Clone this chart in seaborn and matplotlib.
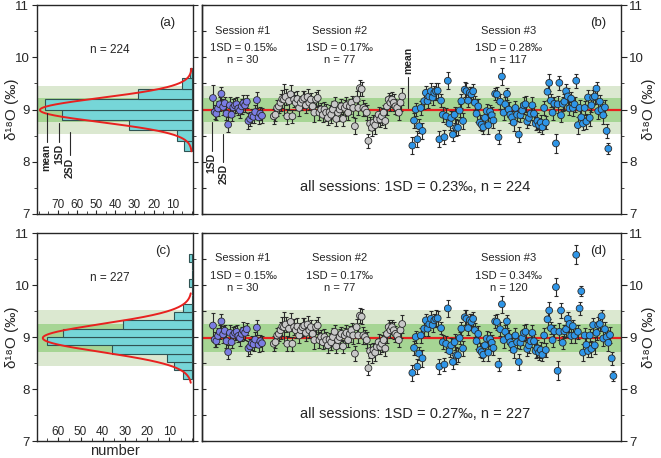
import numpy as np
import pandas as pd
import seaborn as sns
import matplotlib.pyplot as plt
from matplotlib.ticker import MultipleLocator

sns.set_style('ticks')
plt.rcParams['font.family'] = ['Liberation Sans', 'DejaVu Sans']
plt.rcParams['axes.linewidth'] = 1.0

# %% data
s1 = [9.22, 8.95, 8.92, 9.02, 9.10, 9.30, 9.05, 9.12, 8.92, 8.71,
      9.08, 8.90, 9.04, 9.08, 9.10, 9.02, 8.98, 9.06, 9.12, 9.08,
      9.15, 8.78, 8.82, 8.88, 8.86, 8.95, 9.18, 8.85, 8.92, 8.88]
err1 = [0.24, 0.14, 0.12, 0.15, 0.13, 0.14, 0.16, 0.12, 0.13, 0.14,
        0.15, 0.12, 0.16, 0.14, 0.13, 0.12, 0.15, 0.14, 0.16, 0.13,
        0.12, 0.15, 0.14, 0.13, 0.12, 0.14, 0.15, 0.13, 0.12, 0.14]

s2 = [8.87, 8.90, 9.03, 9.06, 9.13, 9.20, 9.19, 9.24, 8.87, 9.16,
      9.29, 8.87, 9.19, 9.13, 9.20, 9.03, 9.13, 9.19, 9.22, 9.08,
      9.24, 9.13, 9.19, 9.06, 8.94, 9.19, 9.22, 8.94, 9.00, 8.90,
      9.00, 8.94, 8.84, 8.95, 8.90, 9.00, 9.10, 8.82, 8.94, 9.00,
      9.06, 8.82, 9.03, 9.08, 8.94, 9.06, 9.13, 9.03, 8.68, 9.19,
      9.03, 9.41, 9.39, 9.03, 9.00, 8.94, 8.40, 8.73, 8.65, 8.75,
      8.70, 8.81, 8.90, 8.81, 8.87, 8.94, 8.78, 9.06, 9.19, 9.13,
      9.19, 9.13, 9.06, 9.03, 8.94, 9.13, 9.25]
err2 = [0.14, 0.12, 0.15, 0.13, 0.16, 0.18, 0.30, 0.15, 0.14, 0.16,
        0.17, 0.13, 0.15, 0.14, 0.16, 0.15, 0.13, 0.17, 0.14, 0.15,
        0.16, 0.14, 0.13, 0.15, 0.17, 0.14, 0.16, 0.15, 0.13, 0.14,
        0.15, 0.16, 0.14, 0.13, 0.15, 0.17, 0.14, 0.13, 0.16, 0.15,
        0.14, 0.13, 0.15, 0.16, 0.14, 0.15, 0.13, 0.17, 0.15, 0.16,
        0.14, 0.15, 0.14, 0.16, 0.13, 0.15, 0.14, 0.13, 0.15, 0.14,
        0.16, 0.13, 0.15, 0.14, 0.16, 0.15, 0.14, 0.17, 0.13, 0.15,
        0.14, 0.16, 0.15, 0.13, 0.14, 0.15, 0.17]

s3_b = [8.31, 8.79, 9.00, 8.43, 8.68, 9.03, 8.59, 9.16, 9.32, 9.16,
        9.25, 9.35, 9.23, 9.32, 9.35, 9.36, 8.43, 9.17, 8.90, 8.47,
        8.87, 9.55, 8.73, 8.84, 8.52, 8.90, 8.65, 8.65, 8.98, 9.16,
        8.78, 9.38, 9.35, 9.17, 9.32, 9.29, 9.35, 9.13, 8.92, 9.06,
        8.75, 8.71, 8.66, 8.84, 8.97, 8.70, 8.96, 8.89, 8.79, 9.30,
        9.29, 8.47, 9.15, 9.63, 8.94, 9.10,
        9.30, 9.00, 8.90, 8.85, 8.75, 9.03, 8.90, 8.52, 8.89, 8.98,
        9.08, 9.10, 8.77, 8.84, 8.92, 9.08, 8.92, 8.73, 8.78, 8.70,
        8.75, 8.66, 9.03, 8.75, 9.34, 9.51, 9.17, 8.94, 9.11, 8.35,
        9.10, 9.51, 8.89, 9.11, 9.15, 9.35, 9.25, 9.02, 9.21, 9.03,
        9.10, 9.55, 8.70, 9.03, 8.85, 8.73, 9.03, 8.77, 9.23, 8.84,
        9.08, 9.23, 9.25, 9.40, 8.97, 9.15, 9.00, 8.89, 9.04, 8.59,
        8.25]
err3_b = [0.16, 0.14, 0.12, 0.15, 0.13, 0.14, 0.16, 0.15, 0.13, 0.14,
          0.12, 0.15, 0.14, 0.13, 0.16, 0.14, 0.15, 0.12, 0.14, 0.13,
          0.15, 0.16, 0.12, 0.14, 0.13, 0.15, 0.16, 0.14, 0.12, 0.13,
          0.15, 0.14, 0.16, 0.13, 0.12, 0.15, 0.14, 0.13, 0.16, 0.15,
          0.14, 0.12, 0.13, 0.15, 0.14, 0.16, 0.13, 0.15, 0.14, 0.12,
          0.15, 0.13, 0.14, 0.16, 0.15, 0.13, 0.12, 0.14, 0.15, 0.13,
          0.16, 0.14, 0.12, 0.15, 0.13, 0.14, 0.16, 0.15, 0.13, 0.14,
          0.12, 0.15, 0.14, 0.13, 0.16, 0.14, 0.15, 0.12, 0.14, 0.13,
          0.15, 0.16, 0.12, 0.14, 0.13, 0.18, 0.16, 0.14, 0.12, 0.13,
          0.15, 0.14, 0.16, 0.13, 0.12, 0.15, 0.14, 0.13, 0.16, 0.15,
          0.14, 0.12, 0.13, 0.15, 0.14, 0.16, 0.13, 0.15, 0.14, 0.12,
          0.15, 0.13, 0.14, 0.16, 0.15, 0.13, 0.10]

# panel (d): session 3 with the three high outliers kept
s3_d = s3_b[:85] + [9.96] + s3_b[85:96] + [10.58] + s3_b[96:98] + [9.88] + s3_b[98:]
err3_d = err3_b[:85] + [0.18] + err3_b[85:96] + [0.18] + err3_b[96:98] + [0.10] + err3_b[98:]

# histograms (bin edges, counts)
hist_a_edges = [8.2, 8.4, 8.6, 8.8, 9.0, 9.2, 9.4, 9.6, 9.8]
hist_a_counts = [4, 8, 33, 68, 77, 28, 5, 1]
hist_c_edges = [8.20, 8.36, 8.52, 8.68, 8.84, 9.00, 9.16, 9.32, 9.48, 9.64,
                9.80, 9.96, 10.12, 10.28, 10.44, 10.60]
hist_c_counts = [4, 8, 11, 36, 65, 58, 31, 8, 4, 0, 0, 1, 0, 0, 1]

# summary stats: mean, 1SD, gaussian peak
stats_b = dict(mean=8.99, sd=0.23, peak=79.5, n=224)
stats_d = dict(mean=8.98, sd=0.27, peak=67, n=227)

session_sd_b = ['0.15', '0.17', '0.28']
session_sd_d = ['0.15', '0.17', '0.34']

pal = {'1': '#7b7de3', '2': '#c8c8c8', '3': '#2f96e8'}
red = '#e8211f'
band1 = '#a6d594'
band2 = '#dbe8d0'
ink = '#2a2a2a'

def session_frame(s3, e3):
    x = np.concatenate([np.arange(1, 1 + len(s1)),
                        np.arange(37, 37 + len(s2)),
                        np.arange(119, 119 + len(s3))])
    return pd.DataFrame({'x': x,
                         'y': s1 + s2 + s3,
                         'err': err1 + err2 + e3,
                         'session': ['1'] * len(s1) + ['2'] * len(s2) + ['3'] * len(s3)})

df_b = session_frame(s3_b, err3_b)
df_d = session_frame(s3_d, err3_d)

fig = plt.figure(figsize=(6.61, 4.58), dpi=100)
ax_a = fig.add_axes([37 / 661, 1 - 214 / 458, 156 / 661, 209 / 458])
ax_b = fig.add_axes([202 / 661, 1 - 214 / 458, 419 / 661, 209 / 458])
ax_c = fig.add_axes([37 / 661, 1 - 441 / 458, 156 / 661, 208 / 458])
ax_d = fig.add_axes([202 / 661, 1 - 441 / 458, 419 / 661, 208 / 458])

ylab = 'δ¹⁸O (‰)'

def bands(ax, st):
    m, sd = st['mean'], st['sd']
    ax.axhspan(m - 2 * sd, m + 2 * sd, color=band2, lw=0, zorder=0)
    ax.axhspan(m - sd, m + sd, color=band1, lw=0, zorder=0.5)

def hist_panel(ax, edges, counts, st, xmax, ticks, ext, tag):
    bands(ax, st)
    centers = [(lo + hi) / 2 for lo, hi in zip(edges[:-1], edges[1:])]
    hdf = pd.DataFrame({'v': centers, 'w': counts})
    sns.histplot(data=hdf, y='v', weights='w', bins=list(edges), ax=ax, color='#76d6d8',
                 edgecolor='#2f5353', linewidth=0.8, alpha=1, zorder=2)
    yy = np.linspace(st['mean'] - ext, st['mean'] + ext, 300)
    xx = st['peak'] * np.exp(-0.5 * ((yy - st['mean']) / st['sd']) ** 2)
    ax.plot(xx, yy, color=red, lw=1.4, zorder=3)
    ax.set_xlim(xmax, -0.6)
    ax.set_ylim(7, 11)
    ax.set_yticks([7, 8, 9, 10, 11])
    ax.yaxis.set_minor_locator(MultipleLocator(0.5))
    ax.tick_params(axis='y', which='both', left=True, right=True, direction='out',
                   labelsize=9.5, pad=2)
    ax.tick_params(axis='y', which='major', length=3.5)
    ax.tick_params(axis='y', which='minor', length=2.5)
    ax.set_xticks(ticks)
    ax.xaxis.set_minor_locator(MultipleLocator(5))
    ax.tick_params(axis='x', which='both', direction='in', pad=-11, labelsize=8.5, length=3)
    ax.tick_params(axis='x', which='minor', length=2)
    ax.set_ylabel(ylab, fontsize=11)
    ax.yaxis.set_label_coords(-0.115, 0.5)
    ax.set_xlabel('')
    ax.text(13, 10.66, tag, fontsize=9.5, ha='center', va='center')
    ax.text(xmax * 0.53, 10.13, f"n = {st['n']}", fontsize=8.5, ha='center', va='center')

def series_panel(ax, df, st, sds, tag):
    bands(ax, st)
    ax.axhline(st['mean'], color=red, lw=1.6, zorder=1)
    ax.errorbar(df['x'], df['y'], yerr=df['err'], fmt='none', ecolor=ink,
                elinewidth=0.8, capsize=1.2, capthick=0.8, zorder=2)
    sns.scatterplot(data=df, x='x', y='y', hue='session', palette=pal, s=24,
                    edgecolor=ink, linewidth=0.6, legend=False, ax=ax, zorder=3)
    ax.set_xlim(-5.5, 242.5)
    ax.set_ylim(7, 11)
    ax.set_xticks([])
    ax.set_xlabel('')
    ax.yaxis.tick_right()
    ax.yaxis.set_label_position('right')
    ax.set_yticks([7, 8, 9, 10, 11])
    ax.yaxis.set_minor_locator(MultipleLocator(0.5))
    ax.tick_params(axis='y', which='both', direction='out', labelsize=9.5, pad=2)
    ax.tick_params(axis='y', which='major', length=4)
    ax.tick_params(axis='y', which='minor', length=2.5)
    ax.set_ylabel(ylab, fontsize=11)
    ax.yaxis.set_label_coords(1.05, 0.5)
    sec = ax.secondary_yaxis('left')
    sec.yaxis.set_major_locator(MultipleLocator(0.5))
    sec.tick_params(axis='y', direction='in', length=3, labelleft=False)
    counts = df['session'].value_counts()
    for cx, key, sd in zip([18.75, 76, 176], ['1', '2', '3'], sds):
        ax.text(cx, 10.51, f'Session #{key}', fontsize=8, ha='center', va='center')
        ax.text(cx, 10.18, f'1SD = {sd}‰', fontsize=8, ha='center', va='center')
        ax.text(cx, 9.94, f'n = {counts[key]}', fontsize=8, ha='center', va='center')
    ax.text(228.8, 10.66, tag, fontsize=9.5, ha='center', va='center')
    ax.text(120.5, 7.51, f"all sessions: 1SD = {st['sd']:.2f}‰, n = {st['n']}",
            fontsize=10.5, ha='center', va='center')

hist_panel(ax_a, hist_a_edges, hist_a_counts, stats_b, 81, [10, 20, 30, 40, 50, 60, 70], 0.79, '(a)')
hist_panel(ax_c, hist_c_edges, hist_c_counts, stats_d, 69.6, [10, 20, 30, 40, 50, 60], 0.86, '(c)')
series_panel(ax_b, df_b, stats_b, session_sd_b, '(b)')
series_panel(ax_d, df_d, stats_d, session_sd_d, '(d)')

ax_c.set_xlabel('number', fontsize=10.5)
ax_c.xaxis.set_label_coords(0.5, -0.015)

# leader labels in (a)
for x0, y0, y1, lab in [(76, 8.93, 8.38, 'mean'), (69.5, 8.75, 8.38, '1SD'), (64, 8.57, 8.12, '2SD')]:
    ax_a.plot([x0, x0], [y0, y1], color=ink, lw=0.8, zorder=4)
    ax_a.text(x0, y1 - 0.04, lab, rotation=90, fontsize=7.5, fontweight='bold',
              ha='center', va='top', zorder=4)

# leader labels in (b)
for x0, y0, y1, lab in [(0.2, 8.77, 8.21, '1SD'), (7.1, 8.54, 7.99, '2SD')]:
    ax_b.plot([x0, x0], [y0, y1], color=ink, lw=0.8, zorder=4)
    ax_b.text(x0, y1 - 0.04, lab, rotation=90, fontsize=7.5, fontweight='bold',
              ha='center', va='top', zorder=4)
ax_b.plot([116.6, 116.6], [9.03, 9.63], color=ink, lw=0.8, zorder=4)
ax_b.text(116.6, 9.67, 'mean', rotation=90, fontsize=7.5, fontweight='bold',
          ha='center', va='bottom', zorder=4)

plt.savefig('out.png', dpi=100)
